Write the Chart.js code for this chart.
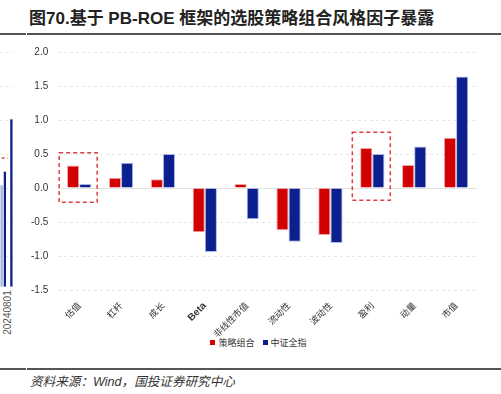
<!DOCTYPE html>
<html>
<head>
<meta charset="utf-8">
<script src="https://cdn.jsdelivr.net/npm/chart.js@4"></script>
<style>
  html, body { margin: 0; padding: 0; background: #fff; }
  body { width: 501px; height: 394px; position: relative; overflow: hidden; }
  .title { position: absolute; left: 29px; top: 4px; font: bold 17px "Liberation Sans", "Noto Sans CJK SC", sans-serif; color: #222; white-space: nowrap; }
  .rule { position: absolute; height: 2px; background: #555; }
  .src { position: absolute; left: 30px; top: 371px; font: italic 12.6px "Liberation Sans", "Noto Sans CJK SC", sans-serif; color: #333; white-space: nowrap; }
  .stub-lbl { position: absolute; left: -18px; top: 307px; width: 50px; text-align: center; font: 10px "Liberation Sans", sans-serif; color: #555; transform: rotate(-90deg); }
  .legend { position: absolute; left: 0; width: 517px; top: 336px; text-align: center; font: 9px "Noto Sans CJK SC", sans-serif; color: #333; white-space: nowrap; }
  .legend span.item { margin: 0 4px; }
  .legend i { display: inline-block; width: 5px; height: 5px; margin-right: 3px; vertical-align: 1px; }
  #main { position: absolute; left: 0; top: 0; }
  #stub { position: absolute; left: 0; top: 52px; }
</style>
</head>
<body>
<div class="title">图70.基于 PB-ROE 框架的选股策略组合风格因子暴露</div>
<div class="rule" style="left:0;top:33px;width:26px"></div>
<div class="rule" style="left:27px;top:33px;width:474px"></div>
<div class="rule" style="left:0;top:368px;width:26px"></div>
<div class="rule" style="left:27px;top:368px;width:474px"></div>
<div class="src">资料来源：Wind，国投证券研究中心</div>
<div class="stub-lbl">20240801</div>
<div class="legend" id="legend"></div>
<canvas id="stub" width="13" height="238"></canvas>
<canvas id="main" width="501" height="340"></canvas>
<script>
// 风格因子
const factors = ['估值', '杠杆', '成长', 'Beta', '非线性市值', '流动性', '波动性', '盈利', '动量', '市值'];
const celueZuhe = [0.33, 0.15, 0.13, -0.65, 0.06, -0.62, -0.69, 0.59, 0.34, 0.74];
const zhongzhengQuanzhi = [0.06, 0.37, 0.50, -0.94, -0.46, -0.79, -0.81, 0.50, 0.61, 1.64];
const seriesNames = ['策略组合', '中证全指'];
const yTicks = [-1.5, -1.0, -0.5, 0.0, 0.5, 1.0, 1.5, 2.0];
// 红色虚线框：[类别序号, 下沿, 上沿]
const boxes = [[0, -0.21, 0.52], [7, -0.18, 0.82]];

// 左侧被截断的上一张图
const stubBars = [[-1.45, 0.04], [-1.45, 0.24], null, [-1.45, 1.01]];
const stubLine = [0.44, 0.44, 0.44, null];

const RED = '#d20000';
const BLUE = '#0c1f8f';
const colors = [RED, BLUE];

const extras = {
  id: 'extras',
  beforeDatasetsDraw(chart) {
    const { ctx, chartArea, scales: { y } } = chart;
    ctx.save();
    ctx.strokeStyle = '#e2e2e2';
    ctx.lineWidth = 1;
    const y0 = Math.round(y.getPixelForValue(0)) + 0.5;
    ctx.beginPath();
    ctx.moveTo(chartArea.left, y0);
    ctx.lineTo(chartArea.right, y0);
    ctx.stroke();
    ctx.restore();
  },
  afterDatasetsDraw(chart) {
    const { ctx, scales: { x, y } } = chart;
    ctx.save();
    ctx.strokeStyle = 'rgba(210,0,0,0.75)';
    ctx.lineWidth = 1.5;
    ctx.setLineDash([4, 3]);
    boxes.forEach(([i, lo, hi]) => {
      const cx = x.getPixelForValue(i);
      const top = y.getPixelForValue(hi);
      const bot = y.getPixelForValue(lo);
      ctx.strokeRect(cx - 20, top, 38, bot - top);
    });
    ctx.restore();
  }
};

new Chart(document.getElementById('main'), {
  type: 'bar',
  data: {
    labels: factors,
    datasets: [
      { label: seriesNames[0], data: celueZuhe, backgroundColor: RED, borderColor: 'rgba(210,0,0,0.35)', borderWidth: 1 },
      { label: seriesNames[1], data: zhongzhengQuanzhi, backgroundColor: BLUE, borderColor: 'rgba(120,140,210,0.6)', borderWidth: 1 }
    ]
  },
  options: {
    responsive: false,
    animation: false,
    layout: { padding: { left: 21, right: 24, top: 52, bottom: 0 } },
    datasets: { bar: { categoryPercentage: 0.58, barPercentage: 1.0 } },
    plugins: {
      tooltip: { enabled: false },
      legend: { display: false }
    },
    scales: {
      x: {
        grid: { display: false },
        border: { display: false },
        afterFit: (s) => { s.height = 50; },
        ticks: {
          maxRotation: 45, minRotation: 45, padding: 2,
          color: '#333',
          font: (c) => c.index === 3
            ? { size: 10, weight: 'bold', family: '"Liberation Sans", sans-serif' }
            : { size: 9, family: '"Noto Sans CJK SC", sans-serif' }
        }
      },
      y: {
        min: -1.5, max: 2.0,
        afterBuildTicks: (s) => { s.ticks = yTicks.map(v => ({ value: v })); },
        grid: { color: '#e6e6e6', drawTicks: false },
        border: { display: false, dash: [3, 3] },
        ticks: {
          padding: 10, color: '#333',
          font: { size: 10, family: '"Liberation Sans", sans-serif' },
          callback: (v) => v.toFixed(1)
        }
      }
    }
  },
  plugins: [extras]
});

// 图例
document.getElementById('legend').innerHTML = seriesNames
  .map((n, i) => `<span class="item"><i style="background:${colors[i]}"></i>${n}</span>`)
  .join('');

new Chart(document.getElementById('stub'), {
  type: 'bar',
  data: {
    labels: ['', '', '', ''],
    datasets: [
      { type: 'line', data: stubLine, borderColor: 'rgba(210,0,0,0.7)', borderWidth: 1.5, borderDash: [3, 3], pointRadius: 0 },
      { data: stubBars, backgroundColor: ['#a9b3dd', BLUE, BLUE, BLUE], categoryPercentage: 1, barPercentage: 0.7 }
    ]
  },
  options: {
    responsive: false,
    animation: false,
    layout: { padding: 0 },
    plugins: { legend: { display: false }, tooltip: { enabled: false } },
    scales: {
      x: { display: false },
      y: {
        min: -1.5, max: 2.0,
        afterBuildTicks: (s) => { s.ticks = yTicks.map(v => ({ value: v })); },
        afterFit: (s) => { s.width = 0; },
        grid: { color: '#e6e6e6', drawTicks: false },
        border: { display: false, dash: [3, 3] },
        ticks: { display: false }
      }
    }
  }
});
</script>
</body>
</html>
